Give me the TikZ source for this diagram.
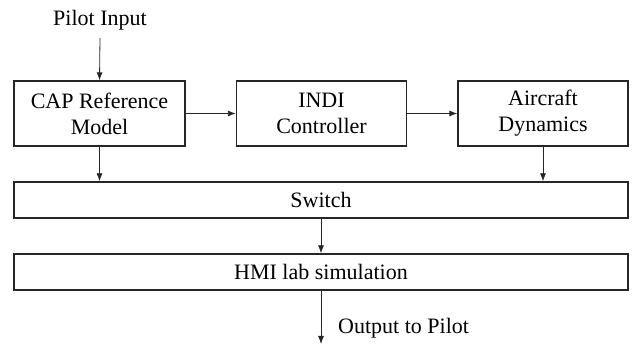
\documentclass[tikz,border=0pt]{standalone}
\usepackage{fontspec}
\setmainfont{Liberation Serif}
\usetikzlibrary{arrows.meta}
\begin{document}
\begin{tikzpicture}[x=1pt,y=-1pt,
  blk/.style={draw=black!85, line width=1.3pt, inner sep=0pt, align=center,
    font=\fontsize{22}{26}\selectfont},
  lbl/.style={inner sep=0pt, font=\fontsize{22}{26}\selectfont},
  flow/.style={draw=black!85, line width=0.8pt, -{Latex[length=8pt,width=6pt]}}]
  \useasboundingbox (0,0) rectangle (633,347);
  % top row of blocks
  \node[blk, minimum width=171pt, minimum height=65pt] (cap) at (99.5,113.5) {CAP Reference\\Model};
  \node[blk, minimum width=170pt, minimum height=65pt] (indi) at (321.5,113.5) {INDI\\Controller};
  \node[blk, minimum width=170pt, minimum height=65pt] (ac) at (543,113.5) {Aircraft\\Dynamics};
  % wide blocks
  \node[blk, minimum width=614pt, minimum height=36pt] (sw) at (321,200) {Switch};
  \node[blk, minimum width=614pt, minimum height=36pt] (hmi) at (321,272) {HMI lab simulation};
  % input and output
  \node[lbl] (pin) at (100,20) {Pilot Input};
  \coordinate (pinb) at (100,38);
  \coordinate (out) at (321,344);
  \node[lbl, anchor=west] (pout) at (338,328) {Output to Pilot};
  % connectors
  \draw[flow] (pinb) -- (cap.north);
  \draw[flow] (cap.east) -- (indi.west);
  \draw[flow] (indi.east) -- (ac.west);
  \draw[flow] (cap.south) -- (cap.south |- sw.north);
  \draw[flow] (ac.south) -- (ac.south |- sw.north);
  \draw[flow] (sw.south -| out) -- (hmi.north -| out);
  \draw[flow] (hmi.south -| out) -- (out);
\end{tikzpicture}
\end{document}
